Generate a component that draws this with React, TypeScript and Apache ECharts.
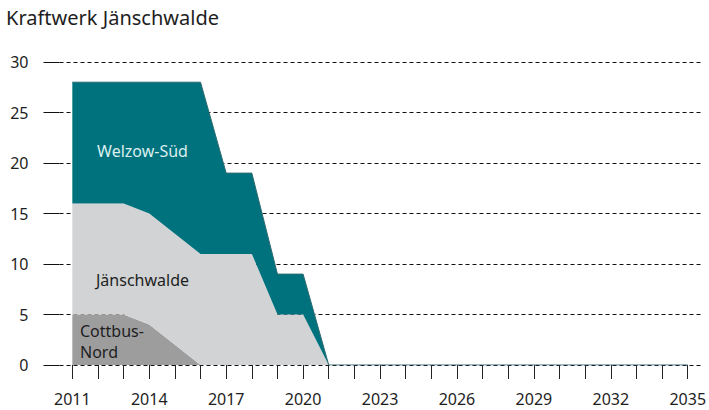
import React, { useEffect, useRef } from "react";
import * as echarts from "echarts";

const years = [
  "2011", "2012", "2013", "2014", "2015", "2016", "2017", "2018", "2019", "2020",
  "2021", "2022", "2023", "2024", "2025", "2026", "2027", "2028", "2029", "2030",
  "2031", "2032", "2033", "2034", "2035",
];
const cottbusNord = [5, 5, 5, 4, 2, 0, 0, 0, 0, 0, 0, 0, 0, 0, 0, 0, 0, 0, 0, 0, 0, 0, 0, 0, 0];
const jaenschwalde = [11, 11, 11, 11, 11, 11, 11, 11, 5, 5, 0, 0, 0, 0, 0, 0, 0, 0, 0, 0, 0, 0, 0, 0, 0];
const welzowSued = [12, 12, 12, 13, 15, 17, 8, 8, 4, 4, 0, 0, 0, 0, 0, 0, 0, 0, 0, 0, 0, 0, 0, 0, 0];
const titleText = "Kraftwerk Jänschwalde";

const FONT = "'Noto Sans', 'Open Sans', sans-serif";
const TEXT = "#1e1e1e";

export default function App() {
  const ref = useRef<HTMLDivElement>(null);
  useEffect(() => {
    document.body.style.margin = "0";
    const chart = echarts.init(ref.current!, null, { renderer: "svg" });
    chart.setOption({
      animation: false,
      backgroundColor: "#ffffff",
      textStyle: { fontFamily: FONT },
      title: {
        text: titleText,
        left: 1,
        top: 2,
        textStyle: { fontFamily: FONT, fontSize: 20, fontWeight: "normal", color: TEXT },
      },
      grid: { left: 59.5, right: 7, top: 62, bottom: 45 },
      xAxis: {
        type: "category",
        data: years,
        boundaryGap: true,
        axisLine: { show: false },
        axisTick: {
          show: true,
          alignWithLabel: true,
          interval: 0,
          length: 14,
          lineStyle: { color: "#222", width: 1 },
        },
        axisLabel: {
          interval: 2,
          fontSize: 16,
          color: TEXT,
          fontFamily: FONT,
          margin: 26,
        },
        splitLine: { show: false },
      },
      yAxis: {
        type: "value",
        min: 0,
        max: 30,
        interval: 5,
        axisLine: { show: false },
        axisTick: { show: true, length: 16, lineStyle: { color: "#111", width: 1 } },
        axisLabel: { fontSize: 16, color: TEXT, fontFamily: FONT, margin: 31 },
        splitLine: {
          show: true,
          lineStyle: { color: "#111", width: 1, type: [4, 3] },
        },
      },
      series: [
        {
          name: "Cottbus-Nord",
          type: "line",
          stack: "total",
          data: cottbusNord,
          showSymbol: false,
          lineStyle: { width: 0 },
          areaStyle: { color: "#9d9d9e", opacity: 1 },
          itemStyle: { color: "#9d9d9e" },
        },
        {
          name: "Jänschwalde",
          type: "line",
          stack: "total",
          data: jaenschwalde,
          showSymbol: false,
          lineStyle: { width: 0 },
          areaStyle: { color: "#d1d3d5", opacity: 1 },
          itemStyle: { color: "#d1d3d5" },
        },
        {
          name: "Welzow-Süd",
          type: "line",
          stack: "total",
          data: welzowSued,
          showSymbol: false,
          lineStyle: { width: 1, color: "#2f6a70" },
          areaStyle: { color: "#00727d", opacity: 1 },
          itemStyle: { color: "#00727d" },
        },
      ],
      graphic: [
        {
          type: "text",
          x: 142.5,
          y: 151,
          style: {
            text: "Welzow-Süd",
            fill: "#dcefef",
            font: `16px ${FONT}`,
            align: "center",
            verticalAlign: "middle",
          },
          z: 20,
        },
        {
          type: "text",
          x: 142.5,
          y: 280,
          style: {
            text: "Jänschwalde",
            fill: TEXT,
            font: `16px ${FONT}`,
            align: "center",
            verticalAlign: "middle",
          },
          z: 20,
        },
        {
          type: "text",
          x: 80,
          y: 331,
          style: {
            text: "Cottbus-",
            fill: TEXT,
            font: `16px ${FONT}`,
            align: "left",
            verticalAlign: "middle",
          },
          z: 20,
        },
        {
          type: "text",
          x: 80,
          y: 352,
          style: {
            text: "Nord",
            fill: TEXT,
            font: `16px ${FONT}`,
            align: "left",
            verticalAlign: "middle",
          },
          z: 20,
        },
      ],
    });
    return () => chart.dispose();
  }, []);
  return <div ref={ref} style={{ width: 709, height: 410 }} />;
}
